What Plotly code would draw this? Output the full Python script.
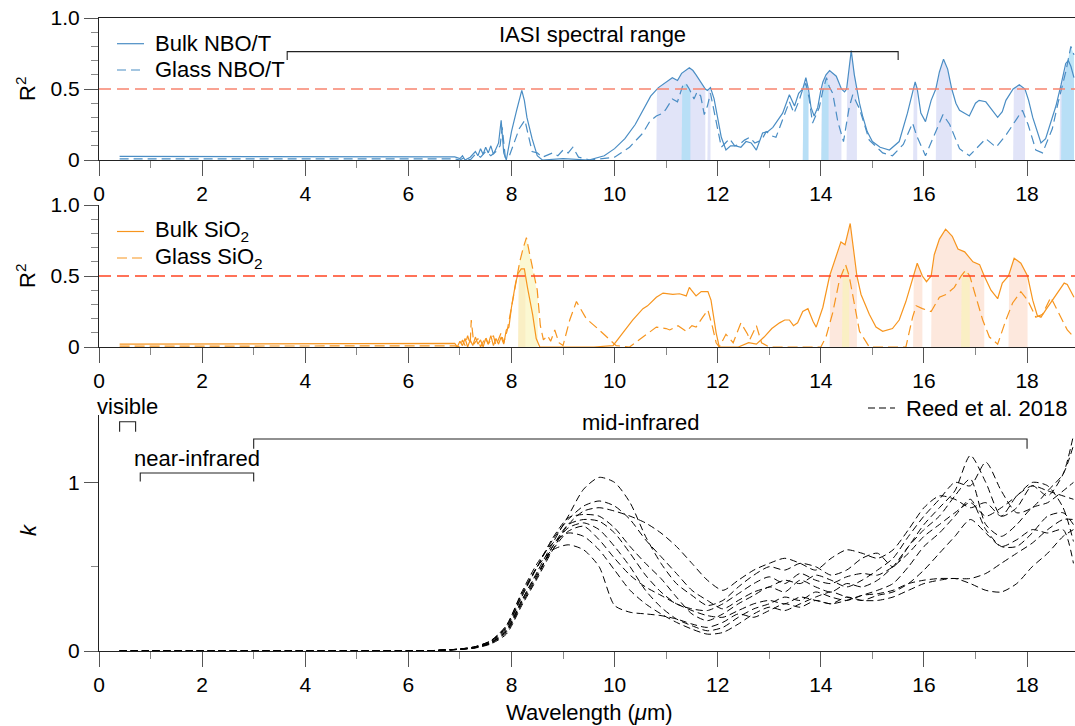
import numpy as np
import plotly.graph_objects as go

FONT = "Liberation Sans, Arial, Helvetica, sans-serif"
W, H = 1075, 726
X_RANGE = [0, 18.93]

# ---------------- Top panel: NBO/T ----------------
NBO_BULK_WL = [0.4, 6.9, 7.0, 7.05, 7.1, 7.2, 7.3, 7.35, 7.4, 7.45, 7.5, 7.55, 7.6, 7.65, 7.7, 7.75, 7.8, 7.85,
               7.9, 8.0, 8.1, 8.2, 8.25, 8.3, 8.4, 8.5, 8.6, 9.0, 9.5, 9.8, 10.0, 10.2, 10.4, 10.6, 10.7, 10.85,
               11.0, 11.12, 11.22, 11.3, 11.45, 11.52, 11.58, 11.67, 11.76, 11.8, 11.86, 11.93, 12.0, 12.07,
               12.16, 12.25, 12.35, 12.45, 12.55, 12.65, 12.75, 12.87, 12.97, 13.07, 13.26, 13.39, 13.49, 13.57,
               13.65, 13.71, 13.76, 13.81, 13.87, 13.94, 14.0, 14.04, 14.1, 14.17, 14.3, 14.4, 14.46, 14.5,
               14.54, 14.59, 14.65, 14.7, 14.75, 14.81, 14.9, 15.0, 15.15, 15.33, 15.52, 15.68, 15.79, 15.83,
               15.87, 15.94, 16.03, 16.14, 16.23, 16.3, 16.38, 16.46, 16.54, 16.62, 16.69, 16.88, 17.0, 17.07,
               17.2, 17.3, 17.43, 17.52, 17.59, 17.73, 17.85, 17.96, 18.03, 18.11, 18.27, 18.36, 18.46, 18.56,
               18.66, 18.75, 18.8, 18.85, 18.91]
NBO_BULK_R2 = [0.025, 0.022, 0.01, 0.03, 0.0, 0.02, 0.06, 0.03, 0.08, 0.04, 0.09, 0.05, 0.10, 0.04, 0.08, 0.12, 0.28, 0.05,
               0.0, 0.20, 0.35, 0.49, 0.42, 0.30, 0.15, 0.03, 0.0, 0.01, 0.0, 0.03, 0.08, 0.15, 0.25, 0.39, 0.45, 0.51,
               0.55, 0.58, 0.56, 0.61, 0.65, 0.63, 0.60, 0.55, 0.50, 0.49, 0.51, 0.43, 0.28, 0.16,
               0.07, 0.10, 0.10, 0.09, 0.13, 0.12, 0.07, 0.19, 0.20, 0.23, 0.33, 0.46, 0.38, 0.47,
               0.50, 0.58, 0.50, 0.37, 0.31, 0.37, 0.49, 0.55, 0.60, 0.63, 0.59, 0.50, 0.48, 0.50,
               0.62, 0.77, 0.60, 0.50, 0.40, 0.31, 0.20, 0.13, 0.09, 0.07, 0.13, 0.33, 0.50, 0.55,
               0.50, 0.33, 0.27, 0.42, 0.50, 0.62, 0.71, 0.64, 0.50, 0.40, 0.35, 0.31, 0.40, 0.42,
               0.41, 0.36, 0.30, 0.34, 0.42, 0.50, 0.53, 0.50, 0.42, 0.30, 0.12, 0.15, 0.27, 0.38,
               0.53, 0.68, 0.70, 0.66, 0.58]

NBO_GLASS_WL = [0.4, 6.9, 7.0, 7.1, 7.2, 7.3, 7.4, 7.5, 7.6, 7.7, 7.78, 7.82, 7.88, 7.95, 8.05, 8.15, 8.26, 8.33,
                8.4, 8.5, 8.6, 8.8, 8.9, 9.0, 9.1, 9.19, 9.3, 9.52, 10.0, 10.29, 10.55, 10.68, 10.81, 10.94, 11.0,
                11.12, 11.22, 11.32, 11.38, 11.45, 11.54, 11.6, 11.67, 11.74, 11.8, 11.86, 11.97, 12.07, 12.15,
                12.23, 12.33, 12.42, 12.52, 12.62, 12.72, 12.85, 12.94, 13.05, 13.13, 13.26, 13.39, 13.48, 13.58,
                13.66, 13.71, 13.77, 13.84, 13.97, 14.04, 14.11, 14.16, 14.23, 14.33, 14.44, 14.55, 14.62, 14.75,
                14.94, 15.2, 15.39, 15.6, 15.78, 15.86, 16.03, 16.2, 16.37, 16.5, 16.69, 16.88, 17.07, 17.2, 17.4,
                17.6, 17.8, 17.91, 18.02, 18.17, 18.3, 18.49, 18.6, 18.68, 18.75, 18.85, 18.91]
NBO_GLASS_R2 = [0.008, 0.008, 0.0, 0.02, 0.0, 0.04, 0.02, 0.06, 0.03, 0.06, 0.10, 0.23, 0.02, 0.02, 0.12, 0.22, 0.28, 0.18,
                0.06, 0.05, 0.02, 0.05, 0.03, 0.07, 0.05, 0.09, 0.02, 0.0, 0.02, 0.09, 0.19, 0.27, 0.31, 0.33, 0.36,
                0.43, 0.41, 0.52, 0.54, 0.50, 0.43, 0.48, 0.45, 0.32, 0.38, 0.47, 0.27, 0.09, 0.12,
                0.15, 0.10, 0.11, 0.14, 0.16, 0.12, 0.14, 0.20, 0.17, 0.16, 0.28, 0.41, 0.33, 0.42,
                0.51, 0.54, 0.44, 0.26, 0.37, 0.49, 0.58, 0.52, 0.47, 0.27, 0.13, 0.37, 0.46, 0.36,
                0.14, 0.05, 0.03, 0.11, 0.26, 0.17, 0.03, 0.17, 0.32, 0.25, 0.08, 0.03, 0.10, 0.15, 0.09,
                0.18, 0.29, 0.35, 0.25, 0.07, 0.05, 0.22, 0.40, 0.52, 0.62, 0.80, 0.74]

# bands where R2 > 0.5
NBO_BULK_BANDS = [(10.81, 11.76), (11.80, 11.86), (13.65, 13.76), (14.01, 14.40), (14.50, 14.70),
                  (15.79, 15.87), (16.23, 16.54), (17.73, 17.96), (18.63, 18.91)]
NBO_GLASS_BANDS = [(11.30, 11.47), (13.65, 13.76), (14.01, 14.15), (18.66, 18.91)]

# ---------------- Middle panel: SiO2 ----------------
SIO2_BULK_WL = [0.4, 6.9, 6.95, 7.0, 7.05, 7.1, 7.15, 7.2, 7.25, 7.3, 7.35, 7.4, 7.45, 7.5, 7.55, 7.6, 7.65, 7.7,
                7.75, 7.8, 7.85, 7.9, 7.95, 8.0, 8.08, 8.13, 8.19, 8.25, 8.31, 8.41, 8.48, 8.55, 9.6, 9.97, 10.16,
                10.35, 10.55, 10.64, 10.81, 10.94, 11.13, 11.26, 11.39, 11.45, 11.49, 11.58, 11.68, 11.81, 11.87,
                11.97, 12.03, 12.4, 12.6, 12.75, 12.9, 13.05, 13.2, 13.3, 13.39, 13.47, 13.55, 13.65, 13.75, 13.85,
                13.91, 14.04, 14.17, 14.3, 14.39, 14.47, 14.57, 14.63, 14.7, 14.78, 14.94, 15.07, 15.2, 15.39,
                15.52, 15.65, 15.79, 15.87, 15.97, 16.05, 16.14, 16.2, 16.3, 16.42, 16.55, 16.66, 16.79, 16.95,
                17.08, 17.17, 17.3, 17.43, 17.52, 17.64, 17.75, 17.88, 18.01, 18.11, 18.2, 18.27, 18.36, 18.49,
                18.6, 18.72, 18.78, 18.91]
SIO2_BULK_R2 = [0.02, 0.025, 0.0, 0.04, 0.01, 0.06, 0.0, 0.05, 0.01, 0.07, 0.02, 0.05, 0.0, 0.06, 0.02, 0.08, 0.01, 0.06,
                0.02, 0.07, 0.02, 0.12, 0.14, 0.28, 0.45, 0.52, 0.55, 0.55, 0.42, 0.23, 0.06, 0.0, 0.0, 0.01, 0.10,
                0.19, 0.27, 0.29, 0.35, 0.38, 0.37, 0.375, 0.36, 0.42, 0.40, 0.36, 0.39, 0.39, 0.33,
                0.10, 0.0, 0.0, 0.03, 0.02, 0.07, 0.13, 0.17, 0.19, 0.19, 0.15, 0.17, 0.25, 0.27, 0.18,
                0.14, 0.28, 0.50, 0.64, 0.74, 0.72, 0.87, 0.70, 0.50, 0.37, 0.23, 0.14, 0.11, 0.13,
                0.19, 0.32, 0.50, 0.59, 0.50, 0.46, 0.50, 0.65, 0.76, 0.83, 0.78, 0.69, 0.67, 0.60,
                0.58, 0.50, 0.40, 0.34, 0.45, 0.50, 0.625, 0.59, 0.50, 0.33, 0.22, 0.21, 0.26, 0.33,
                0.38, 0.45, 0.44, 0.35]

SIO2_GLASS_WL = [0.4, 6.9, 7.0, 7.05, 7.1, 7.15, 7.2, 7.22, 7.27, 7.35, 7.4, 7.5, 7.55, 7.65, 7.7, 7.8, 7.85, 7.92,
                 8.0, 8.1, 8.16, 8.23, 8.29, 8.35, 8.41, 8.5, 8.56, 8.62, 8.7, 8.76, 8.84, 8.92, 9.0, 9.13, 9.26,
                 9.35, 9.45, 9.64, 9.84, 10.03, 10.29, 10.55, 10.81, 11.0, 11.07, 11.23, 11.39, 11.5, 11.58, 11.71,
                 11.81, 11.9, 11.97, 12.03, 12.16, 12.3, 12.45, 12.58, 12.62, 12.75, 12.85, 13.0, 14.0, 14.1, 14.23,
                 14.36, 14.41, 14.48, 14.55, 14.65, 14.75, 14.94, 15.65, 15.78, 15.85, 15.97, 16.14, 16.3, 16.43,
                 16.59, 16.72, 16.81, 16.89, 17.01, 17.14, 17.27, 17.43, 17.59, 17.72, 17.88, 18.01, 18.17, 18.3,
                 18.46, 18.62, 18.78, 18.91]
SIO2_GLASS_R2 = [0.006, 0.008, 0.0, 0.05, 0.01, 0.08, 0.02, 0.19, 0.02, 0.06, 0.0, 0.07, 0.02, 0.08, 0.01, 0.10, 0.03, 0.12,
                 0.28, 0.50, 0.60, 0.70, 0.77, 0.66, 0.55, 0.40, 0.15, 0.05, 0.08, 0.04, 0.12, 0.03, 0.01, 0.19, 0.32,
                 0.26, 0.20, 0.14, 0.07, 0.01, 0.0, 0.07, 0.14, 0.13, 0.12, 0.15, 0.11, 0.15, 0.14, 0.21,
                 0.26, 0.14, 0.03, 0.0, 0.09, 0.03, 0.17, 0.09, 0.05, 0.15, 0.03, 0.0, 0.0, 0.07, 0.24,
                 0.47, 0.52, 0.58, 0.50, 0.31, 0.11, 0.0, 0.0, 0.21, 0.29, 0.27, 0.25, 0.35, 0.37,
                 0.42, 0.50, 0.54, 0.50, 0.35, 0.19, 0.07, 0.02, 0.19, 0.31, 0.39, 0.33, 0.21, 0.23,
                 0.35, 0.23, 0.12, 0.07]

SIO2_BULK_BANDS = [(8.13, 8.27), (14.17, 14.70), (15.79, 15.97), (16.14, 17.17), (17.64, 18.01)]
SIO2_GLASS_BANDS = [(8.13, 8.51), (14.41, 14.55), (16.72, 16.89)]

# ---------------- Bottom panel: k (Reed et al. 2018) ----------------
K_WL = [0.4, 1, 2, 3, 4, 5, 6, 6.5, 7, 7.3, 7.6, 7.9, 8.2, 8.5, 8.8, 9.1, 9.4, 9.7, 10.0, 10.3, 10.6, 10.9,
        11.2, 11.5, 11.8, 12.1, 12.4, 12.7, 13.0, 13.3, 13.6, 13.9, 14.2, 14.5, 14.8, 15.1, 15.4, 15.7, 16.0,
        16.3, 16.6, 16.9, 17.2, 17.5, 17.8, 18.1, 18.4, 18.7, 18.9]
K_1 = [0, 0, 0, 0, 0, 0, 0.001, 0.003, 0.01, 0.02, 0.05, 0.12, 0.30, 0.47,
       0.64, 0.80, 0.96, 1.03, 1.00, 0.88, 0.68, 0.52, 0.40, 0.33, 0.27, 0.30, 0.38, 0.45, 0.50, 0.48, 0.52,
       0.50, 0.45, 0.48, 0.55, 0.58, 0.50, 0.62, 0.75, 0.85, 0.95, 1.16, 1.00, 0.80, 0.85, 0.98, 0.92, 1.05, 1.28]
K_2 = [0, 0, 0, 0, 0, 0, 0.001, 0.003, 0.012, 0.025, 0.06, 0.14, 0.33, 0.50,
       0.66, 0.78, 0.86, 0.89, 0.86, 0.78, 0.66, 0.56, 0.46, 0.36, 0.30, 0.25, 0.30, 0.35, 0.38, 0.42, 0.40,
       0.45, 0.42, 0.38, 0.42, 0.48, 0.55, 0.68, 0.80, 0.90, 1.00, 0.98, 1.12, 0.95, 0.82, 0.85, 0.95, 1.05, 1.22]
K_3 = [0, 0, 0, 0, 0, 0, 0.001, 0.002, 0.01, 0.018, 0.042, 0.10, 0.27, 0.43,
       0.60, 0.75, 0.83, 0.85, 0.83, 0.80, 0.76, 0.70, 0.62, 0.52, 0.42, 0.36, 0.42, 0.48, 0.52, 0.55, 0.52,
       0.48, 0.55, 0.60, 0.58, 0.55, 0.60, 0.72, 0.85, 0.92, 0.90, 0.85, 0.88, 0.80, 0.92, 0.98, 0.95, 0.92, 0.90]
K_4 = [0, 0, 0, 0, 0, 0, 0.001, 0.003, 0.011, 0.022, 0.055, 0.135, 0.32, 0.50,
       0.67, 0.79, 0.81, 0.80, 0.73, 0.62, 0.52, 0.43, 0.32, 0.22, 0.18, 0.22, 0.28, 0.33, 0.38, 0.35, 0.42,
       0.38, 0.35, 0.40, 0.38, 0.42, 0.50, 0.62, 0.72, 0.80, 0.92, 1.02, 0.75, 0.68, 0.75, 0.85, 0.88, 0.95, 1.00]
K_5 = [0, 0, 0, 0, 0, 0, 0.001, 0.003, 0.01, 0.02, 0.048, 0.115, 0.29, 0.45,
       0.62, 0.73, 0.76, 0.72, 0.62, 0.50, 0.36, 0.26, 0.19, 0.15, 0.12, 0.14, 0.20, 0.25, 0.28, 0.32, 0.30,
       0.35, 0.32, 0.30, 0.33, 0.36, 0.40, 0.50, 0.62, 0.70, 0.80, 0.90, 0.72, 0.62, 0.62, 0.70, 0.80, 0.82, 0.75]
K_6 = [0, 0, 0, 0, 0, 0, 0.001, 0.003, 0.012, 0.026, 0.06, 0.15, 0.35, 0.52,
       0.64, 0.70, 0.68, 0.60, 0.48, 0.36, 0.28, 0.22, 0.17, 0.13, 0.10, 0.11, 0.16, 0.22, 0.26, 0.24, 0.28,
       0.32, 0.35, 0.32, 0.30, 0.33, 0.35, 0.40, 0.48, 0.58, 0.68, 0.78, 0.70, 0.62, 0.66, 0.72, 0.70, 0.72, 0.52]
K_7 = [0, 0, 0, 0, 0, 0, 0.001, 0.003, 0.012, 0.026, 0.062, 0.15, 0.34, 0.50,
       0.60, 0.63, 0.60, 0.50, 0.27, 0.23, 0.22, 0.21, 0.19, 0.16, 0.14, 0.17, 0.22, 0.20, 0.24, 0.28, 0.26,
       0.30, 0.28, 0.32, 0.30, 0.30, 0.32, 0.36, 0.40, 0.42, 0.43, 0.40, 0.36, 0.35, 0.40, 0.50, 0.58, 0.68, 0.72]
K_8 = [0, 0, 0, 0, 0, 0, 0.001, 0.003, 0.011, 0.022, 0.05, 0.125, 0.30, 0.46,
       0.60, 0.71, 0.74, 0.66, 0.55, 0.45, 0.38, 0.33, 0.28, 0.24, 0.21, 0.20, 0.24, 0.28, 0.30, 0.28, 0.32,
       0.30, 0.28, 0.30, 0.33, 0.34, 0.36, 0.40, 0.42, 0.43, 0.43, 0.43, 0.46, 0.52, 0.58, 0.64, 0.72, 0.78, 0.78]
K_9 = [0, 0, 0, 0, 0, 0, 0.001, 0.003, 0.01, 0.02, 0.046, 0.11, 0.28, 0.44,
       0.62, 0.75, 0.78, 0.77, 0.70, 0.58, 0.45, 0.35, 0.28, 0.25, 0.24, 0.28, 0.34, 0.40, 0.44, 0.40, 0.46,
       0.42, 0.40, 0.44, 0.46, 0.45, 0.50, 0.58, 0.68, 0.75, 0.82, 0.88, 0.80, 0.85, 0.92, 1.00, 0.98, 0.85, 0.65]
K_SERIES = [K_1, K_2, K_3, K_4, K_5, K_6, K_7, K_8, K_9]

X_TICK_STEP = 2
R2_TICKS = [0, 0.5, 1.0]
R2_TICKTEXT = ["0", "0.5", "1.0"]
K_TICKS = [0, 1]
K_TICKTEXT = ["0", "1"]

# ---------------- styles ----------------
BLUE = "#4A8DC4"
ORANGE = "#F7951E"
LAVENDER = "#E1E4F8"
CYAN = "rgba(170,222,246,0.75)"
PEACH = "#FDE8DD"
YELLOW = "rgba(248,244,180,0.6)"
GLASS_BLUE_DASH = "9px,5px"
GLASS_ORANGE_DASH = "10px,5px"
K_DASH = "7px,4px"

fig = go.Figure()


def add_bands(wl, vals, bands, color, xa, ya):
    for a, b in bands:
        xs = np.linspace(a, b, 80)
        ys = np.interp(xs, wl, vals)
        fig.add_trace(go.Scatter(
            x=np.concatenate([[a], xs, [b]]), y=np.concatenate([[0], ys, [0]]),
            fill="toself", fillcolor=color, mode="lines", line=dict(width=0),
            hoverinfo="skip", showlegend=False, xaxis=xa, yaxis=ya))


add_bands(NBO_BULK_WL, NBO_BULK_R2, NBO_BULK_BANDS, LAVENDER, "x", "y")
add_bands(NBO_GLASS_WL, NBO_GLASS_R2, NBO_GLASS_BANDS, CYAN, "x", "y")
add_bands(SIO2_BULK_WL, SIO2_BULK_R2, SIO2_BULK_BANDS, PEACH, "x2", "y2")
add_bands(SIO2_GLASS_WL, SIO2_GLASS_R2, SIO2_GLASS_BANDS, YELLOW, "x2", "y2")

fig.add_trace(go.Scatter(x=NBO_BULK_WL, y=NBO_BULK_R2, mode="lines", name="Bulk NBO/T",
                         line=dict(color=BLUE, width=1.2), xaxis="x", yaxis="y"))
fig.add_trace(go.Scatter(x=NBO_GLASS_WL, y=NBO_GLASS_R2, mode="lines", name="Glass NBO/T",
                         line=dict(color=BLUE, width=1.2, dash=GLASS_BLUE_DASH), xaxis="x", yaxis="y"))
fig.add_trace(go.Scatter(x=SIO2_BULK_WL, y=SIO2_BULK_R2, mode="lines", name="Bulk SiO2",
                         line=dict(color=ORANGE, width=1.2), xaxis="x2", yaxis="y2"))
fig.add_trace(go.Scatter(x=SIO2_GLASS_WL, y=SIO2_GLASS_R2, mode="lines", name="Glass SiO2",
                         line=dict(color=ORANGE, width=1.2, dash=GLASS_ORANGE_DASH), xaxis="x2", yaxis="y2"))

for i, ks in enumerate(K_SERIES):
    fig.add_trace(go.Scatter(x=K_WL, y=ks, mode="lines", name="Reed et al. 2018",
                             line=dict(color="black", width=1, dash=K_DASH, shape="spline", smoothing=0.7),
                             xaxis="x3", yaxis="y3"))

# ---------------- axes ----------------
XDOM = [99 / W, 1]
DOM_TOP = [1 - 160 / H, 1 - 18 / H]
DOM_MID = [1 - 347 / H, 1 - 205 / H]
DOM_BOT = [1 - 651 / H, 1 - 415 / H]

tickfont = dict(family=FONT, size=21, color="black")


def xax(anchor, mirror=False):
    return dict(domain=XDOM, range=X_RANGE, anchor=anchor, showline=True, linecolor="#222", linewidth=1,
                mirror=mirror, ticks="outside", ticklen=15, tickwidth=1, tickcolor="#555",
                tickmode="linear", tick0=0, dtick=X_TICK_STEP, tickfont=tickfont,
                minor=dict(ticks="outside", ticklen=7, tickwidth=1, tickcolor="#888", dtick=1, tick0=0,
                           showgrid=False),
                showgrid=False, zeroline=False, automargin=False, fixedrange=True)


def yax(anchor, dom, rng, vals, text, mdt):
    return dict(domain=dom, range=rng, anchor=anchor, showline=True, linecolor="#222", linewidth=1,
                ticks="outside", ticklen=14, tickwidth=1, tickcolor="#555",
                tickmode="array", tickvals=vals, ticktext=text, tickfont=tickfont,
                minor=dict(ticks="outside", ticklen=7, tickwidth=1, tickcolor="#888", dtick=mdt, tick0=0,
                           showgrid=False),
                showgrid=False, zeroline=False, automargin=False, fixedrange=True)


fig.update_layout(
    width=W, height=H, margin=dict(l=0, r=0, t=0, b=0),
    paper_bgcolor="white", plot_bgcolor="white",
    font=dict(family=FONT, size=22, color="black"),
    xaxis=xax("y", mirror=True), yaxis=yax("x", DOM_TOP, [0, 1.0], R2_TICKS, R2_TICKTEXT, 0.1),
    xaxis2=xax("y2"), yaxis2=yax("x2", DOM_MID, [0, 1.0], R2_TICKS, R2_TICKTEXT, 0.1),
    xaxis3=xax("y3"), yaxis3=yax("x3", DOM_BOT, [0, 1.4], K_TICKS, K_TICKTEXT, 0.5),
    showlegend=False,
)

# threshold lines at R2 = 0.5
fig.add_shape(type="line", xref="x domain", yref="y", x0=0, x1=1, y0=0.5, y1=0.5,
              line=dict(color="#F7846F", width=1.6, dash="12px,6px"), layer="above")
fig.add_shape(type="line", xref="x2 domain", yref="y2", x0=0, x1=1, y0=0.5, y1=0.5,
              line=dict(color="#FF4422", width=1.4, dash="12px,6px"), layer="above")

# brackets
BR = dict(color="#222", width=1.1)
fig.add_shape(type="path", xref="x", yref="y", path="M 3.65,0.704 L 3.65,0.763 L 15.5,0.763 L 15.5,0.704", line=BR)
fig.add_shape(type="path", xref="x3", yref="y3", path="M 0.4,1.30 L 0.4,1.36 L 0.71,1.36 L 0.71,1.30", line=BR)
fig.add_shape(type="path", xref="x3", yref="y3", path="M 0.8,1.006 L 0.8,1.056 L 3.0,1.056 L 3.0,1.006", line=BR)
fig.add_shape(type="path", xref="x3", yref="y3", path="M 3.0,1.20 L 3.0,1.258 L 18.0,1.258 L 18.0,1.20", line=BR)

af = dict(family=FONT, size=22, color="black")


def ann(text, x, y, xref="paper", yref="paper", xanchor="center", font=af, **kw):
    fig.add_annotation(text=text, x=x, y=y, xref=xref, yref=yref, xanchor=xanchor, yanchor="middle",
                       showarrow=False, font=font, **kw)


ann("IASI spectral range", 9.575, 1 - 35 / H, xref="x")
ann("visible", 0.56, 1 - 407 / H, xref="x3")
ann("near-infrared", 1.9, 1 - 458 / H, xref="x3")
ann("mid-infrared", 10.5, 1 - 423 / H, xref="x3")

# axis titles
ann("R<sup>2</sup>", 26 / W, 1 - 89 / H, textangle=-90)
ann("R<sup>2</sup>", 26 / W, 1 - 276 / H, textangle=-90)
ann("<i>k</i>", 28 / W, 1 - 530 / H, textangle=-90)
ann("Wavelength (<i>μ</i>m)", 589 / W, 1 - 712 / H)

# legends (drawn as samples + labels)
LEG = [
    (43.7, BLUE, None, "Bulk NBO/T", 117, 153),
    (70.0, BLUE, GLASS_BLUE_DASH, "Glass NBO/T", 117, 153),
    (231.5, ORANGE, None, "Bulk SiO<sub>2</sub>", 117, 153),
    (258.0, ORANGE, GLASS_ORANGE_DASH, "Glass SiO<sub>2</sub>", 117, 153),
    (408.0, "black", K_DASH, "Reed et al. 2018", 868, 904),
]
for yy, col, dash, label, x0, xt in LEG:
    ln = dict(color=col, width=1.2)
    if dash:
        ln["dash"] = dash
    fig.add_shape(type="line", xref="paper", yref="paper", x0=x0 / W, x1=(x0 + 27) / W,
                  y0=1 - yy / H, y1=1 - yy / H, line=ln)
    ann(label, xt / W, 1 - yy / H, xanchor="left")

fig.write_html("out.html")
